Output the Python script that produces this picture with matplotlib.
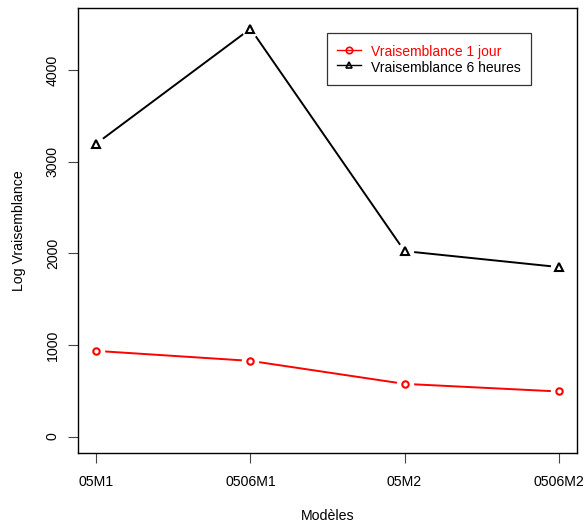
import matplotlib
matplotlib.use("Agg")
import matplotlib.pyplot as plt
from matplotlib.lines import Line2D

models = ["05M1", "0506M1", "05M2", "0506M2"]
vrais_1jour = [935, 826, 575, 492]
vrais_6heures = [3200, 4454, 2025, 1851]
yticks = [0, 1000, 2000, 3000, 4000]
ylim_data = (0, 4500)

plt.rcParams['font.family'] = ['Liberation Sans', 'DejaVu Sans']
fs = 10.2

fig = plt.figure(figsize=(5.86, 5.27), dpi=100)
ax = fig.add_axes([78/586, 1-453/527, 499/586, 445/527])

x = list(range(1, len(models)+1))
lw = 1.4

for vals, col, mk in [(vrais_1jour, 'red', 'o'), (vrais_6heures, 'black', '^')]:
    ax.plot(x, vals, color=col, lw=lw, zorder=2)
    ax.plot(x, vals, ls='none', marker='o', ms=12.5, mfc='white', mec='none', zorder=3)
    ax.plot(x, vals, ls='none', marker=mk, ms=4.6 if mk == 'o' else 5.2, mfc='none',
            mec=col, mew=1.5, zorder=4)

pad = 0.04*(ylim_data[1]-ylim_data[0])
ax.set_ylim(ylim_data[0]-pad, ylim_data[1]+pad)
ax.set_xlim(1-0.04*3, 4+0.04*3)

ax.set_xticks(x)
ax.set_xticklabels(models, fontsize=fs)
ax.set_yticks(yticks)
ax.set_yticklabels([str(v) for v in yticks], fontsize=fs, rotation=90, va='center')
ax.tick_params(axis='both', direction='out', length=7, width=0.8, color='#444444', pad=9)
ax.tick_params(axis='y', pad=6)
for s in ax.spines.values():
    s.set_linewidth(1.0)

ax.set_xlabel("Modèles", fontsize=fs, labelpad=14)
ax.set_ylabel("Log Vraisemblance", fontsize=fs, labelpad=14)

h1 = Line2D([], [], color='red', lw=1.0, marker='o', ms=4.6, mfc='none', mec='red', mew=1.2)
h2 = Line2D([], [], color='black', lw=1.0, marker='^', ms=5.0, mfc='none', mec='black', mew=1.2)
leg = ax.legend([h1, h2], ["Vraisemblance 1 jour", "Vraisemblance 6 heures"],
                loc='upper left', bbox_to_anchor=((327-78)/499, 1-(33-8)/445),
                borderaxespad=0, fontsize=10.0, frameon=True, fancybox=False,
                edgecolor='black', handlelength=1.7, handletextpad=0.7,
                handleheight=1.3, labelspacing=0.05, borderpad=0.75)
leg.get_frame().set_linewidth(0.9)
leg.get_texts()[0].set_color('red')

fig.savefig("out.png", dpi=100)
